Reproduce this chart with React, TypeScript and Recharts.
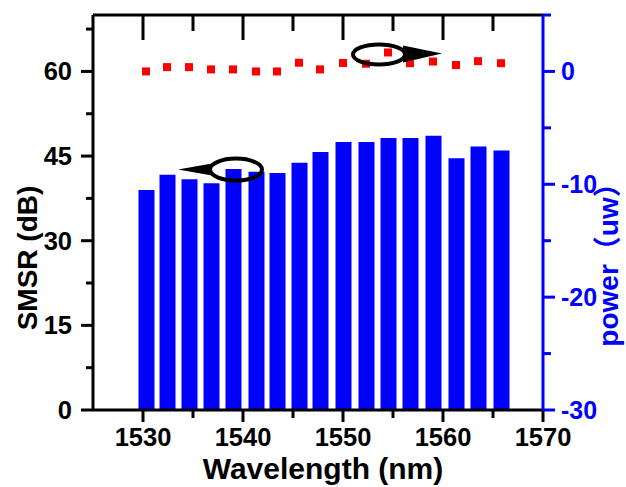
import {
  ComposedChart,
  Bar,
  Scatter,
  XAxis,
  YAxis,
  ReferenceDot,
  Label,
} from "recharts";

const wavelengths = [
  1530.3, 1532.4, 1534.6, 1536.8, 1539.0, 1541.3, 1543.4, 1545.6, 1547.7,
  1550.0, 1552.3, 1554.5, 1556.7, 1559.0, 1561.3, 1563.5, 1565.8,
];
const smsr = [
  39.0, 41.7, 40.9, 40.2, 42.7, 42.2, 42.0, 43.8, 45.7, 47.5, 47.5, 48.2, 48.2,
  48.6, 44.6, 46.7, 46.0,
];
const power = [
  0.0, 0.38, 0.38, 0.18, 0.18, 0.0, 0.0, 0.77, 0.18, 0.75, 0.68, 1.68, 0.73,
  0.88, 0.57, 0.91, 0.73,
];

const xTicks = [1530, 1535, 1540, 1545, 1550, 1555, 1560, 1565, 1570];
const leftTicks = [0, 7.5, 15, 22.5, 30, 37.5, 45, 52.5, 60, 67.5];
const rightTicks = [-30, -25, -20, -15, -10, -5, 0, 5];

const data = wavelengths.map((wl, i) => ({
  wl,
  smsr: smsr[i],
  power: power[i],
}));

const FONT = "'Liberation Sans', Arial, 'Noto Sans CJK SC', sans-serif";
const BLUE = "#0000ff";

function BottomTick(props: any) {
  const { x, y, payload } = props;
  const major = payload.value % 10 === 0;
  return (
    <g>
      <line x1={x} x2={x} y1={y} y2={y + (major ? 12 : 8)} stroke="#000" strokeWidth={3} />
      {major && (
        <text x={x} y={y + 36} textAnchor="middle" fontFamily={FONT} fontWeight="bold" fontSize={25.5} fill="#000">
          {payload.value}
        </text>
      )}
    </g>
  );
}

function TopTick(props: any) {
  const { x, y, payload } = props;
  if (payload.value >= 1570) return <g />;
  const major = payload.value % 10 === 0;
  return <line x1={x} x2={x} y1={y} y2={y + (major ? 25 : 16)} stroke="#000" strokeWidth={3} />;
}

function LeftTick(props: any) {
  const { x, y, payload } = props;
  const major = payload.value % 15 === 0;
  return (
    <g>
      <line x1={x} x2={x - (major ? 12 : 7)} y1={y} y2={y} stroke="#000" strokeWidth={3} />
      {major && (
        <text x={x - 21} y={y + 9} textAnchor="end" fontFamily={FONT} fontWeight="bold" fontSize={25.5} fill="#000">
          {payload.value}
        </text>
      )}
    </g>
  );
}

function RightTick(props: any) {
  const { x, y, payload } = props;
  const major = payload.value % 10 === 0;
  return (
    <g>
      <line x1={x} x2={x + (major ? 12 : 8)} y1={y} y2={y} stroke={BLUE} strokeWidth={3} />
      {major && (
        <text x={x + 18} y={y + 9} textAnchor="start" fontFamily={FONT} fontWeight="bold" fontSize={25} fill={BLUE}>
          {payload.value}
        </text>
      )}
    </g>
  );
}

function Square(props: any) {
  const { cx, cy } = props;
  return <rect x={cx - 4} y={cy - 4} width={8} height={8} fill="#ff0000" />;
}

// arrow pointing left, ellipse around an SMSR bar
function LeftMarker(props: any) {
  const { cx, cy } = props;
  return (
    <g>
      <polygon points={`${cx - 58},${cy} ${cx - 24},${cy - 6} ${cx - 24},${cy + 6}`} fill="#000" />
      <ellipse cx={cx} cy={cy} rx={26} ry={11} fill="none" stroke="#000" strokeWidth={4} />
    </g>
  );
}

// arrow pointing right, ellipse around a power point
function RightMarker(props: any) {
  const { cx, cy } = props;
  return (
    <g>
      <polygon points={`${cx + 24},${cy - 9} ${cx + 24},${cy + 8} ${cx + 63},${cy - 1}`} fill="#000" />
      <ellipse cx={cx} cy={cy} rx={26} ry={10} fill="none" stroke="#000" strokeWidth={4} />
    </g>
  );
}

export default function App() {
  return (
    <div style={{ width: 626, height: 487, background: "#fff" }}>
      <style>{`body{margin:0}`}</style>
      <ComposedChart
        width={626}
        height={487}
        data={data}
        margin={{ top: 0, right: 0, bottom: 0, left: 0 }}
      >
        <XAxis
          xAxisId="bottom"
          dataKey="wl"
          type="number"
          domain={[1525, 1570]}
          ticks={xTicks}
          interval={0}
          height={77}
          tickSize={0}
          tickMargin={0}
          tick={<BottomTick />}
          axisLine={{ stroke: "#000", strokeWidth: 3 }}
        >
          <Label
            content={() => (
              <text x={323} y={479} textAnchor="middle" fontFamily={FONT} fontWeight="bold" fontSize={30} fill="#000">
                Wavelength (nm)
              </text>
            )}
          />
        </XAxis>
        <XAxis
          xAxisId="top"
          orientation="top"
          type="number"
          dataKey="wl"
          domain={[1525, 1570]}
          ticks={xTicks}
          interval={0}
          height={15}
          tickSize={0}
          tickMargin={0}
          tick={<TopTick />}
          axisLine={{ stroke: "#000", strokeWidth: 3 }}
        />
        <YAxis
          yAxisId="left"
          type="number"
          domain={[0, 70]}
          ticks={leftTicks}
          interval={0}
          width={93}
          tickSize={0}
          tickMargin={0}
          tick={<LeftTick />}
          axisLine={{ stroke: "#000", strokeWidth: 3 }}
        >
          <Label
            content={() => (
              <text
                x={37}
                y={258}
                transform="rotate(-90, 37, 258)"
                textAnchor="middle"
                fontFamily={FONT}
                fontWeight="bold"
                fontSize={28}
                fill="#000"
              >
                SMSR (dB)
              </text>
            )}
          />
        </YAxis>
        <YAxis
          yAxisId="right"
          orientation="right"
          type="number"
          domain={[-30, 5]}
          ticks={rightTicks}
          interval={0}
          width={83}
          tickSize={0}
          tickMargin={0}
          tick={<RightTick />}
          axisLine={{ stroke: BLUE, strokeWidth: 3 }}
        >
          <Label
            content={() => (
              <text
                x={618}
                y={258}
                transform="rotate(-90, 618, 258)"
                textAnchor="middle"
                fontFamily={FONT}
                fontWeight="bold"
                fontSize={28}
                fill={BLUE}
              >
                power（uw）
              </text>
            )}
          />
        </YAxis>
        <Bar
          xAxisId="bottom"
          yAxisId="left"
          dataKey="smsr"
          fill={BLUE}
          barSize={16}
          isAnimationActive={false}
        />
        <Scatter
          xAxisId="bottom"
          yAxisId="right"
          dataKey="power"
          shape={<Square />}
          isAnimationActive={false}
        />
        <ReferenceDot
          xAxisId="bottom"
          yAxisId="left"
          x={1539.3}
          y={42.6}
          shape={<LeftMarker />}
          ifOverflow="visible"
        />
        <ReferenceDot
          xAxisId="bottom"
          yAxisId="right"
          x={1553.6}
          y={1.5}
          shape={<RightMarker />}
          ifOverflow="visible"
        />
      </ComposedChart>
    </div>
  );
}
